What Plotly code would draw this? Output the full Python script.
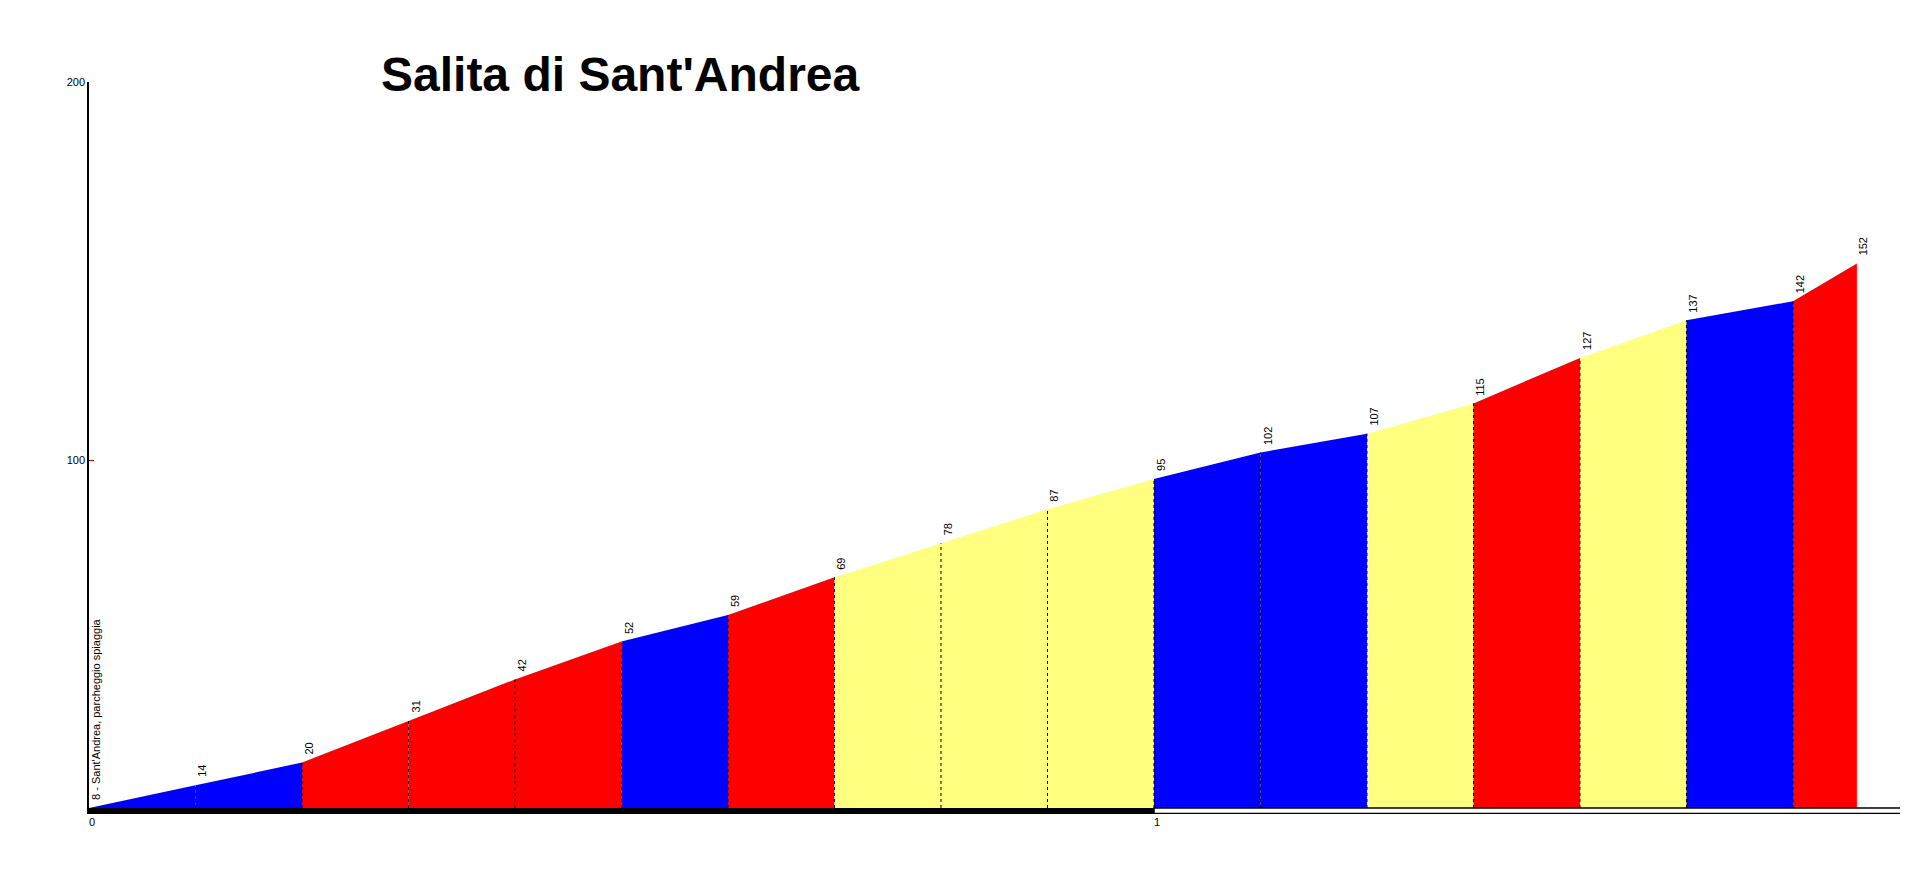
"""
Profilo altimetrico: Salita di Sant'Andrea
"""

import plotly.graph_objects as go

# Dati del profilo
distanze_km = [0, 0.1, 0.2, 0.3, 0.4, 0.5, 0.6, 0.7, 0.8, 0.9, 1.0,
               1.1, 1.2, 1.3, 1.4, 1.5, 1.6, 1.66]
quote_m = [8, 14, 20, 31, 42, 52, 59, 69, 78, 87, 95,
           102, 107, 115, 127, 137, 142, 152]
colori_tratti = ["#0000FF", "#0000FF", "#FF0000", "#FF0000", "#FF0000",
                 "#0000FF", "#FF0000", "#FFFF80", "#FFFF80", "#FFFF80",
                 "#0000FF", "#0000FF", "#FFFF80", "#FF0000", "#FFFF80",
                 "#0000FF", "#FF0000"]
etichette = ["8 - Sant'Andrea, parcheggio spiaggia"] + [str(q) for q in quote_m[1:]]

titolo = "Salita di Sant'Andrea"
y_ticks = [100, 200]
x_ticks = [0, 1]

Y_MIN = 6.4
BASE = 8
X_MAX = 1.708

fig = go.Figure()

# Tratti colorati del profilo
for i, colore in enumerate(colori_tratti):
    x0, x1 = distanze_km[i], distanze_km[i + 1]
    q0, q1 = quote_m[i], quote_m[i + 1]
    fig.add_trace(go.Scatter(
        x=[x0, x0, x1, x1, x0],
        y=[BASE, q0, q1, BASE, BASE],
        mode="lines",
        fill="toself",
        fillcolor=colore,
        line=dict(width=0, color=colore),
        hoverinfo="skip",
        showlegend=False
    ))

# Linee tratteggiate ai punti intermedi
lx, ly = [], []
for d, q in zip(distanze_km[1:-1], quote_m[1:-1]):
    lx += [d, d, None]
    ly += [BASE, q, None]
fig.add_trace(go.Scatter(
    x=lx, y=ly, mode="lines",
    line=dict(color="black", width=1, dash="3px,3px"),
    hoverinfo="skip", showlegend=False
))

# Etichette delle quote
for d, q, t in zip(distanze_km, quote_m, etichette):
    fig.add_annotation(
        x=d, y=q, text=t, textangle=-90,
        showarrow=False, xanchor="center", yanchor="bottom",
        xshift=7, yshift=6,
        font=dict(family="Liberation Sans, Arial", size=11, color="black")
    )

# Barra dei chilometri
fig.add_shape(type="rect", x0=0, x1=1, y0=Y_MIN, y1=BASE,
              fillcolor="black", line=dict(width=0))
fig.add_shape(type="rect", x0=1, x1=X_MAX + 0.01, y0=Y_MIN + 0.15, y1=BASE,
              fillcolor="white", line=dict(color="black", width=1.5))

# Titolo
fig.add_annotation(
    xref="paper", yref="paper", x=(620 - 89) / 1819, y=1.0,
    text=titolo, showarrow=False, xanchor="center", yanchor="bottom",
    yshift=-21,
    font=dict(family="Liberation Sans, Arial", size=48, color="black",
              weight="bold")
)

# la pagina ha 8px di margine, quindi figura un po' più piccola
fig.update_layout(
    width=1900, height=857,
    margin=dict(l=81, r=0, t=74, b=51),
    paper_bgcolor="white", plot_bgcolor="white",
    showlegend=False,
    xaxis=dict(
        range=[0, X_MAX], tickvals=x_ticks, ticktext=[str(v) for v in x_ticks],
        showgrid=False, zeroline=False, showline=False, ticks="",
        ticklabelposition="outside right",
        tickfont=dict(family="Liberation Sans, Arial", size=11, color="black")
    ),
    yaxis=dict(
        range=[Y_MIN, 200], tickvals=y_ticks, ticktext=[str(v) for v in y_ticks],
        showgrid=False, zeroline=False, showline=True, linecolor="black",
        linewidth=1.5, ticks="inside", ticklen=5, tickcolor="#CC0000",
        tickfont=dict(family="Liberation Sans, Arial", size=11, color="black")
    )
)

fig.write_html("out.html")
